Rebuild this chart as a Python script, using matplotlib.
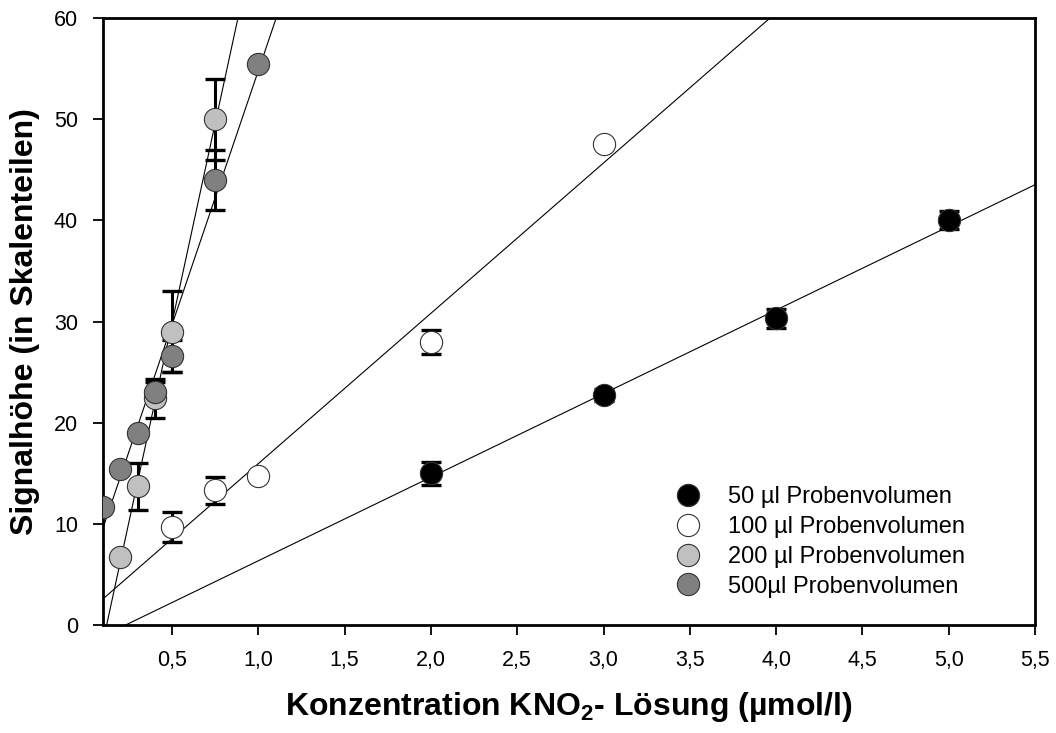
import numpy as np
import matplotlib
matplotlib.use("Agg")
import matplotlib.pyplot as plt
from matplotlib.ticker import FuncFormatter

plt.rcParams['font.family'] = ['Liberation Sans', 'DejaVu Sans']
plt.rcParams['mathtext.fontset'] = 'custom'
plt.rcParams['mathtext.rm'] = 'Liberation Sans'
plt.rcParams['mathtext.bf'] = 'Liberation Sans:bold'

# ---------- data ----------
x_50 = [2.0, 3.0, 4.0, 5.0]
y_50 = [15.0, 22.7, 30.3, 40.0]
e_50 = [1.15, 0.6, 0.9, 0.9]

x_100 = [0.5, 0.75, 1.0, 2.0, 3.0]
y_100 = [9.7, 13.3, 14.7, 28.0, 47.5]
e_100 = [1.45, 1.3, 0.0, 1.2, 0.0]

x_200 = [0.2, 0.3, 0.4, 0.5, 0.75]
y_200 = [6.7, 13.7, 22.4, 29.0, 50.0]
e_200 = [0.0, 2.3, 1.9, 4.0, 4.0]

x_500 = [0.1, 0.2, 0.3, 0.4, 0.5, 0.75, 1.0]
y_500 = [11.7, 15.4, 19.0, 23.0, 26.6, 44.0, 55.5]
e_500 = [0.0, 0.0, 0.0, 1.0, 1.6, 3.0, 0.0]

labels = ['50 µl Probenvolumen', '100 µl Probenvolumen',
          '200 µl Probenvolumen', '500µl Probenvolumen']
colors = ['#000000', '#ffffff', '#c0c0c0', '#808080']

x_ticks = [0.5, 1.0, 1.5, 2.0, 2.5, 3.0, 3.5, 4.0, 4.5, 5.0, 5.5]
y_ticks = [0, 10, 20, 30, 40, 50, 60]

series = [(x_50, y_50, e_50), (x_100, y_100, e_100),
          (x_200, y_200, e_200), (x_500, y_500, e_500)]

fig = plt.figure(figsize=(10.56, 7.33), dpi=100)
ax = fig.add_axes([103/1056, 108/733, (1035-103)/1056, (625-18)/733])

xlim = (0.1, 5.5)
xx = np.array(xlim)

# regression lines first
for xs, ys, es in series:
    k, d = np.polyfit(xs, ys, 1)
    ax.plot(xx, k*xx + d, color='black', lw=0.8, zorder=1)

handles = []
for (xs, ys, es), c, lab in zip(series, colors, labels):
    ax.errorbar(xs, ys, yerr=es, fmt='none', ecolor='black', elinewidth=2.2,
                capsize=7, capthick=2.4, zorder=2)
    h, = ax.plot(xs, ys, 'o', ms=16, mfc=c, mec='#333333', mew=0.8,
                 linestyle='none', zorder=3, label=lab)
    handles.append(h)

ax.set_xlim(*xlim)
ax.set_ylim(0, 60)
ax.set_xticks(x_ticks)
ax.set_yticks(y_ticks)
ax.xaxis.set_major_formatter(FuncFormatter(lambda v, p: f"{v:.1f}".replace('.', ',')))
ax.tick_params(direction='out', length=7, width=1.3, labelsize=15.5, pad=11)
for s in ax.spines.values():
    s.set_linewidth(2)

ax.set_xlabel(r'Konzentration KNO$_\mathbf{2}$- Lösung (µmol/l)',
              fontsize=23, fontweight='bold', labelpad=14)
ax.set_ylabel('Signalhöhe (in Skalenteilen)', fontsize=23,
              fontweight='bold', labelpad=10)

leg = ax.legend(handles=handles, loc='upper left',
                bbox_to_anchor=(655/1056, (733-465)/733),
                bbox_transform=fig.transFigure, frameon=False,
                fontsize=17, handlelength=1.0, handletextpad=1.2,
                labelspacing=0.33, markerscale=1.0)

fig.savefig('out.png', dpi=100)
